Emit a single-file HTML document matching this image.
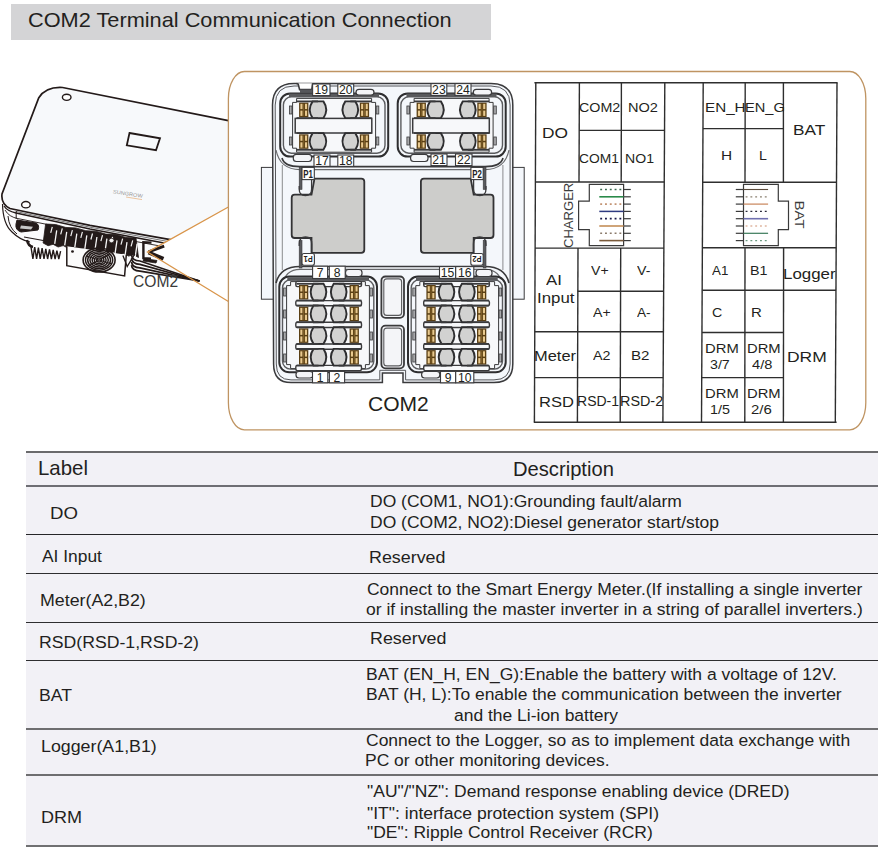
<!DOCTYPE html>
<html><head><meta charset="utf-8"><style>
html,body{margin:0;padding:0;background:#fff;}
body{width:882px;height:850px;position:relative;overflow:hidden;font-family:'Liberation Sans', sans-serif;}
.tx{position:absolute;white-space:nowrap;line-height:1.117;transform-origin:0 0;}
.hl{position:absolute;left:25.6px;width:852.2px;height:1.8px;background:#58585a;}
#tbl{position:absolute;left:25.6px;top:451.8px;width:852.2px;height:394.4px;background:#f2f1f6;}
#titlebar{position:absolute;left:11px;top:4px;width:480px;height:36px;background:#d4d4d6;}
svg{position:absolute;left:0;top:0;}
</style></head><body>
<div id="titlebar"></div>
<div id="tbl"></div>
<div class="hl" style="top:450.90px;height:2.00px;background:#6a6a6c"></div>
<div class="hl" style="top:485.15px;height:1.90px;background:#6e6e74"></div>
<div class="hl" style="top:533.75px;height:1.50px;background:#262628"></div>
<div class="hl" style="top:572.55px;height:1.50px;background:#2e2e30"></div>
<div class="hl" style="top:621.65px;height:1.50px;background:#2e2e30"></div>
<div class="hl" style="top:659.65px;height:1.50px;background:#2e2e30"></div>
<div class="hl" style="top:727.95px;height:1.90px;background:#6e6e70"></div>
<div class="hl" style="top:773.75px;height:1.90px;background:#6e6e70"></div>
<div class="hl" style="top:845.15px;height:1.90px;background:#707072"></div>
<svg width="882" height="850" viewBox="0 0 882 850"><path d="M2 200 Q3 222 14 234 Q22 242 40 246 L66 250 L66 266 L124 276 L128 262 L200 282 L174 241 Z" fill="#fbfbfc" stroke="none" stroke-width="0.00"/>
<path d="M62.6 87.5 L228.4 120.6 L228.4 250 L174.4 241 L90 226 L12 208 Q2 206 2 196 L38.8 97.7 Q46 86.5 62.6 87.5 Z" fill="#f7f9fb" stroke="none" stroke-width="0.00"/>
<path d="M228.4 120.6 L62.6 87.5 Q46 86.5 38.8 97.7 L2.0 194 Q0.8 204 10 208.5 L90 225.4 L176 240.6" fill="none" stroke="#231a19" stroke-width="1.70"/>
<path d="M4 206 Q7 211 16 213 L90 229 L172 244.5" fill="none" stroke="#231a19" stroke-width="1.30"/>
<path d="M16 211.5 L90 227.2 L174 242.6" fill="none" stroke="#777" stroke-width="1.00"/>
<path d="M5 210 Q9 217 18 218.6 L90 233 L160 246" fill="none" stroke="#231a19" stroke-width="0.90"/>
<path d="M2.5 204 Q3 224 12 232 Q20 240 30 242" fill="none" stroke="#231a19" stroke-width="1.20"/>
<path d="M8 216 Q9 228 17 234" fill="none" stroke="#231a19" stroke-width="1.00"/>
<path d="M16.2 211 V219" fill="none" stroke="#231a19" stroke-width="1.00"/>
<path d="M24 237 L46 241" fill="none" stroke="#231a19" stroke-width="1.20"/>
<path d="M17 220 L36 223 Q40 225 38 230 L21 232 Q15 230 16 224 Z" fill="#231a19" stroke="#231a19" stroke-width="1.00"/>
<path d="M21 225.5 L33 226.8 L31 229.6 L20 228.6 Z" fill="#c8c8c8" stroke="none" stroke-width="0.00"/>
<path d="M45.6 224.0 L55.6 224.5 L65.7 227.4 L75.7 227.9 L85.8 230.7 L95.8 231.2 L105.9 234.1 L115.9 234.6 L126.0 237.5 L136.0 238.0 L138.5 257.5 L133.5 254.8 L128.5 256.1 L123.5 253.4 L118.4 254.8 L113.4 252.1 L108.4 253.5 L103.4 250.8 L98.3 252.2 L93.3 249.5 L88.3 250.9 L83.3 248.2 L78.2 249.6 L73.2 246.9 L68.2 248.3 L63.2 245.6 L58.1 247.0 L53.1 244.3 L48.1 245.7 L43.1 243.0 Z" fill="#231a19" stroke="#231a19" stroke-width="0.80"/>
<path d="M52.3 226.8 L50.7 232.8" fill="none" stroke="#f2f2f2" stroke-width="1.20"/>
<path d="M56.7 230.3 L54.7 243.8" fill="none" stroke="#f6f6f6" stroke-width="1.30"/>
<path d="M62.3 228.4 L60.7 234.4" fill="none" stroke="#f2f2f2" stroke-width="1.20"/>
<path d="M66.7 231.9 L64.7 245.4" fill="none" stroke="#f6f6f6" stroke-width="1.30"/>
<path d="M72.4 230.1 L70.8 236.1" fill="none" stroke="#f2f2f2" stroke-width="1.20"/>
<path d="M76.8 233.6 L74.8 247.1" fill="none" stroke="#f6f6f6" stroke-width="1.30"/>
<path d="M82.4 231.8 L80.8 237.8" fill="none" stroke="#f2f2f2" stroke-width="1.20"/>
<path d="M86.8 235.3 L84.8 248.8" fill="none" stroke="#f6f6f6" stroke-width="1.30"/>
<path d="M92.5 233.5 L90.9 239.5" fill="none" stroke="#f2f2f2" stroke-width="1.20"/>
<path d="M96.9 237.0 L94.9 250.5" fill="none" stroke="#f6f6f6" stroke-width="1.30"/>
<path d="M102.5 235.2 L100.9 241.2" fill="none" stroke="#f2f2f2" stroke-width="1.20"/>
<path d="M106.9 238.7 L104.9 252.2" fill="none" stroke="#f6f6f6" stroke-width="1.30"/>
<path d="M112.6 236.9 L111.0 242.9" fill="none" stroke="#f2f2f2" stroke-width="1.20"/>
<path d="M117.0 240.4 L115.0 253.9" fill="none" stroke="#f6f6f6" stroke-width="1.30"/>
<path d="M122.6 238.6 L121.0 244.6" fill="none" stroke="#f2f2f2" stroke-width="1.20"/>
<path d="M127.0 242.1 L125.0 255.6" fill="none" stroke="#f6f6f6" stroke-width="1.30"/>
<path d="M132.7 240.3 L131.1 246.3" fill="none" stroke="#f2f2f2" stroke-width="1.20"/>
<path d="M137.1 243.8 L135.1 257.3" fill="none" stroke="#f6f6f6" stroke-width="1.30"/>
<ellipse cx="111.5" cy="240.5" rx="2.6" ry="2.2" fill="#f2f2f2" stroke="#231a19" stroke-width="0.8"/>
<path d="M31 247 L32.9 259 L34.7 247.0 L36.6 259 L38.4 247.6 L40.2 259 L42.1 248.2 L44.0 259 L45.8 248.8 L47.6 259 L49.5 249.4 L51.4 259 L53.2 250.0 L55.1 259 L56.9 250.6 L58.8 259 L60.6 251.2" fill="none" stroke="#231a19" stroke-width="1.40"/>
<path d="M27 240 Q28 246 33 247" fill="none" stroke="#231a19" stroke-width="2.50"/>
<path d="M66.8 246.2 L66.8 265.7 L124.6 275.9 L126.3 254.7" fill="#fbfbfb" stroke="#231a19" stroke-width="1.50"/>
<ellipse cx="99.1" cy="260" rx="16" ry="12" fill="none" stroke="#231a19" stroke-width="1.6"/>
<ellipse cx="99.1" cy="260" rx="13.6" ry="10.2" fill="none" stroke="#231a19" stroke-width="1.5"/>
<ellipse cx="99.1" cy="260" rx="11.4" ry="8.6" fill="none" stroke="#231a19" stroke-width="1.5"/>
<ellipse cx="99.1" cy="260" rx="9.2" ry="6.9" fill="none" stroke="#231a19" stroke-width="1.5"/>
<ellipse cx="99.1" cy="260" rx="7.0" ry="5.2" fill="none" stroke="#231a19" stroke-width="1.5"/>
<ellipse cx="99.1" cy="260" rx="4.8" ry="3.6" fill="none" stroke="#231a19" stroke-width="1.5"/>
<ellipse cx="99.1" cy="260" rx="2.6" ry="2.0" fill="none" stroke="#231a19" stroke-width="1.5"/>
<path d="M86 256 L112 264 M88 266 L110 254" fill="none" stroke="#231a19" stroke-width="1.00"/>
<ellipse cx="72.5" cy="251.5" rx="1.4" ry="1.2" fill="#231a19"/>
<path d="M122.9 255.5 L127.2 266.6 L134.8 253.8" fill="none" stroke="#231a19" stroke-width="1.30"/>
<path d="M129.5 133 L160 138.3 L156 150.2 L126.8 145.3 Z" fill="none" stroke="#231a19" stroke-width="1.80"/>
<ellipse cx="66.7" cy="97.3" rx="4.3" ry="3.1" fill="#fff" stroke="#231a19" stroke-width="1.4"/>
<ellipse cx="25.9" cy="204.7" rx="4.3" ry="3.2" fill="#fff" stroke="#231a19" stroke-width="1.4"/>
<text x="0" y="0" transform="translate(112.8 193.2) rotate(9)" font-family="Liberation Sans" font-size="5.2" fill="#9a9a9a" textLength="30" lengthAdjust="spacingAndGlyphs">SUNGROW</text>
<path d="M126 197 L142 199.6" fill="none" stroke="#e0a060" stroke-width="0.60"/>
<path d="M147.5 252.1 L228.4 207 L228.4 301.5 Z" fill="#ffffff" stroke="none" stroke-width="0.00"/>
<path d="M151.5 242.6 L143.4 242.2 L143.4 258.2 L151 258.6" fill="none" stroke="#231a19" stroke-width="2.40"/>
<path d="M144 258.5 L157 260.5 L156 263 L143 261 Z" fill="#231a19" stroke="#231a19" stroke-width="0.80"/>
<path d="M131.5 255.0 Q132 260.5 140 261.0 L199.5 281" fill="none" stroke="#231a19" stroke-width="1.70"/>
<path d="M131.5 258.4 Q132 263.9 140 264.4 L199.5 281" fill="none" stroke="#231a19" stroke-width="1.70"/>
<path d="M131.5 261.8 Q132 267.3 140 267.8 L199.5 281" fill="none" stroke="#231a19" stroke-width="1.70"/>
<path d="M131.5 265.2 Q132 270.7 140 271.2 L199.5 281" fill="none" stroke="#231a19" stroke-width="1.70"/>
<path d="M148.5 251.8 L164.2 246.2" fill="none" stroke="#231a19" stroke-width="3.00"/>
<path d="M148.5 252.4 L163.5 258.8" fill="none" stroke="#231a19" stroke-width="3.80"/>
<path d="M229.6 228.5 L229 233" fill="none" stroke="#231a19" stroke-width="1.20"/>
<path d="M228.4 207 L147.5 252.1 L228.4 301.5" fill="none" stroke="#d9954a" stroke-width="1.25"/>
<path d="M244.4 71.5 H849.8 A16 27 0 0 1 865.8 98.5 V402.8 A16 27 0 0 1 849.8 429.8 H244.4 A16 27 0 0 1 228.4 402.8 V98.5 A16 27 0 0 1 244.4 71.5 Z" fill="#ffffff" stroke="#bf9462" stroke-width="1.3"/>
<rect x="261.40" y="167.40" width="14.00" height="131.80" rx="0.00" fill="#f4f7fb" stroke="#3a3a3c" stroke-width="1.00"/><rect x="510.20" y="167.40" width="14.00" height="131.80" rx="0.00" fill="#f4f7fb" stroke="#3a3a3c" stroke-width="1.00"/><path d="M272.5 105 Q272.5 83.4 294 83.4 H491 Q512.8 83.4 512.8 105 V364 Q512.8 382.6 494 382.6 H403 V373 H382.4 V382.6 H291 Q273.6 382.6 273.6 364 Z" fill="#f4f7fb" stroke="#3a3a3c" stroke-width="1.50"/><path d="M275.2 105 Q275.2 86 294 86 H491 Q510.1 86 510.1 105 V364 Q510.1 379.9 494 379.9 H405.6 V370.3 H379.8 V379.9 H291 Q276.3 379.9 276.3 364 Z" fill="none" stroke="#55565a" stroke-width="1.00"/><path d="M297.6 83.2 L299.6 89.6 H311.8 L312.6 83.2 Z" fill="#ffffff" stroke="none" stroke-width="0.00"/><path d="M296.5 83.4 L298.2 84 L299.6 89.6 H311.8 L312.6 83.4" fill="none" stroke="#3a3a3c" stroke-width="1.60"/><rect x="300.00" y="89.60" width="12.00" height="3.20" rx="0.00" fill="#55565a" stroke="none" stroke-width="0.00"/><path d="M282.3 165 V270" fill="none" stroke="#8a8b8e" stroke-width="1.00"/><path d="M502.9 165 V270" fill="none" stroke="#8a8b8e" stroke-width="1.00"/><path d="M282 158 Q284 166.6 300 166.6 H485 Q501 166.6 503 158" fill="none" stroke="#3a3a3c" stroke-width="1.60"/><path d="M276 150 Q280 169.6 300 169.6 H485 Q505 169.6 509 150" fill="none" stroke="#6a6b6e" stroke-width="1.20"/><path d="M276 283 Q280 266.5 300 266.5 H485 Q505 266.5 509 283" fill="none" stroke="#3a3a3c" stroke-width="1.60"/><path d="M282 286 Q285 269.4 300 269.4 H485 Q500 269.4 503 286" fill="none" stroke="#6a6b6e" stroke-width="1.20"/>
<path d="M314.5 178.6 H361.3 Q364.3 178.6 364.3 181.6 V249.8 Q364.3 252.8 361.3 252.8 H311.5 V238.0 H294.7 Q291.7 238.0 291.7 235.0 V197.7 Q291.7 194.7 294.7 194.7 H311.5 Z" fill="#cdcdcb" stroke="#333335" stroke-width="1.80"/>
<path d="M470.7 178.6 H423.9 Q420.9 178.6 420.9 181.6 V249.8 Q420.9 252.8 423.9 252.8 H473.7 V238.0 H490.5 Q493.5 238.0 493.5 235.0 V197.7 Q493.5 194.7 490.5 194.7 H473.7 Z" fill="#cdcdcb" stroke="#333335" stroke-width="1.80"/>
<rect x="299.20" y="167.40" width="2.80" height="22.00" rx="0.00" fill="#5a5b5e" stroke="#3a3a3c" stroke-width="0.60"/><rect x="302.00" y="167.40" width="12.30" height="12.20" rx="0.00" fill="#fff" stroke="#3a3a3c" stroke-width="1.10"/><text x="303.3" y="177.6" font-family="Liberation Sans" font-weight="bold" font-size="10" fill="#222" textLength="9.6" lengthAdjust="spacingAndGlyphs">P1</text><path d="M299.2 186 V189 Q299.2 195.5 305.4 195.5 Q311.6 195.5 311.6 189 V179.6" fill="none" stroke="#3a3a3c" stroke-width="1.30"/><rect x="299.20" y="240.50" width="2.80" height="27.50" rx="0.00" fill="#5a5b5e" stroke="#3a3a3c" stroke-width="0.60"/><path d="M299.2 246 V244 Q299.2 236.8 305.5 236.8 Q311.8 236.8 311.8 244 V252.6" fill="none" stroke="#3a3a3c" stroke-width="1.30"/><rect x="302.00" y="253.50" width="12.40" height="11.80" rx="2.00" fill="#fff" stroke="#3a3a3c" stroke-width="1.10"/><text x="0" y="0" transform="translate(312.7 255.8) rotate(180)" font-family="Liberation Sans" font-weight="bold" font-size="9.5" fill="#222" textLength="9" lengthAdjust="spacingAndGlyphs">P1</text><rect x="483.20" y="167.40" width="2.80" height="22.00" rx="0.00" fill="#5a5b5e" stroke="#3a3a3c" stroke-width="0.60"/><rect x="470.90" y="167.40" width="12.30" height="12.20" rx="0.00" fill="#fff" stroke="#3a3a3c" stroke-width="1.10"/><text x="472.2" y="177.6" font-family="Liberation Sans" font-weight="bold" font-size="10" fill="#222" textLength="9.6" lengthAdjust="spacingAndGlyphs">P2</text><path d="M486.0 186 V189 Q486.0 195.5 479.8 195.5 Q473.6 195.5 473.6 189 V179.6" fill="none" stroke="#3a3a3c" stroke-width="1.30"/><rect x="483.20" y="240.50" width="2.80" height="27.50" rx="0.00" fill="#5a5b5e" stroke="#3a3a3c" stroke-width="0.60"/><path d="M486.0 246 V244 Q486.0 236.8 479.7 236.8 Q473.4 236.8 473.4 244 V252.6" fill="none" stroke="#3a3a3c" stroke-width="1.30"/><rect x="470.80" y="253.50" width="12.40" height="11.80" rx="2.00" fill="#fff" stroke="#3a3a3c" stroke-width="1.10"/><text x="0" y="0" transform="translate(481.5 255.8) rotate(180)" font-family="Liberation Sans" font-weight="bold" font-size="9.5" fill="#222" textLength="9" lengthAdjust="spacingAndGlyphs">P2</text>
<rect x="280.20" y="93.40" width="108.00" height="63.20" rx="10.00" fill="#f4f7fb" stroke="#2e2e30" stroke-width="2.00"/><rect x="283.40" y="96.80" width="101.60" height="56.40" rx="8.00" fill="none" stroke="#5a5b5e" stroke-width="1.40"/><rect x="289.00" y="93.60" width="90.00" height="3.40" rx="0.00" fill="#58595c" stroke="none" stroke-width="0.00"/><path d="M296.6 98.4 H371.6 V102.4 H375.6 V148.2 H371.6 V152.2 H296.6 V148.2 H292.6 V102.4 H296.6 Z" fill="#f7f8fa" stroke="#3a3a3c" stroke-width="1.00"/><rect x="289.40" y="106.00" width="2.60" height="8.00" rx="0.00" fill="#a8a9ab" stroke="#3a3a3c" stroke-width="0.80"/><rect x="289.40" y="137.00" width="2.60" height="8.00" rx="0.00" fill="#a8a9ab" stroke="#3a3a3c" stroke-width="0.80"/><rect x="376.20" y="106.00" width="2.60" height="8.00" rx="0.00" fill="#a8a9ab" stroke="#3a3a3c" stroke-width="0.80"/><rect x="376.20" y="137.00" width="2.60" height="8.00" rx="0.00" fill="#a8a9ab" stroke="#3a3a3c" stroke-width="0.80"/><rect x="295.20" y="118.40" width="76.60" height="14.60" rx="0.00" fill="#f7f8fa" stroke="#3a3a3c" stroke-width="1.50"/><path d="M312.60 101.40 H323.40 Q329.10 109.75 323.40 118.10 H312.60 Q306.90 109.75 312.60 101.40 Z" fill="#d2d2d1" stroke="#2e2e30" stroke-width="1.90"/><rect x="299.10" y="102.60" width="9.30" height="14.50" rx="0.00" fill="#5a3f14" stroke="none" stroke-width="0.00"/><rect x="300.40" y="103.80" width="2.10" height="5.30" rx="0.00" fill="#e9c98e" stroke="none" stroke-width="0.00"/><rect x="300.40" y="110.60" width="2.10" height="5.30" rx="0.00" fill="#e9c98e" stroke="none" stroke-width="0.00"/><rect x="305.00" y="103.80" width="2.10" height="5.30" rx="0.00" fill="#e9c98e" stroke="none" stroke-width="0.00"/><rect x="305.00" y="110.60" width="2.10" height="5.30" rx="0.00" fill="#e9c98e" stroke="none" stroke-width="0.00"/><rect x="303.35" y="103.80" width="0.80" height="12.10" rx="0.00" fill="#8a6a30" stroke="none" stroke-width="0.00"/><line x1="296.50" y1="101.40" x2="318.00" y2="101.40" stroke="#3a3a3c" stroke-width="1.8"/><line x1="296.50" y1="118.10" x2="318.00" y2="118.10" stroke="#3a3a3c" stroke-width="1.8"/><path d="M345.30 101.40 H355.30 Q361.00 109.75 355.30 118.10 H345.30 Q339.60 109.75 345.30 101.40 Z" fill="#d2d2d1" stroke="#2e2e30" stroke-width="1.90"/><rect x="359.80" y="102.60" width="9.30" height="14.50" rx="0.00" fill="#5a3f14" stroke="none" stroke-width="0.00"/><rect x="361.10" y="103.80" width="2.10" height="5.30" rx="0.00" fill="#e9c98e" stroke="none" stroke-width="0.00"/><rect x="361.10" y="110.60" width="2.10" height="5.30" rx="0.00" fill="#e9c98e" stroke="none" stroke-width="0.00"/><rect x="365.70" y="103.80" width="2.10" height="5.30" rx="0.00" fill="#e9c98e" stroke="none" stroke-width="0.00"/><rect x="365.70" y="110.60" width="2.10" height="5.30" rx="0.00" fill="#e9c98e" stroke="none" stroke-width="0.00"/><rect x="364.05" y="103.80" width="0.80" height="12.10" rx="0.00" fill="#8a6a30" stroke="none" stroke-width="0.00"/><line x1="350.30" y1="101.40" x2="371.70" y2="101.40" stroke="#3a3a3c" stroke-width="1.8"/><line x1="350.30" y1="118.10" x2="371.70" y2="118.10" stroke="#3a3a3c" stroke-width="1.8"/><path d="M312.60 133.10 H323.40 Q329.10 141.45 323.40 149.80 H312.60 Q306.90 141.45 312.60 133.10 Z" fill="#d2d2d1" stroke="#2e2e30" stroke-width="1.90"/><rect x="299.10" y="134.30" width="9.30" height="14.50" rx="0.00" fill="#5a3f14" stroke="none" stroke-width="0.00"/><rect x="300.40" y="135.50" width="2.10" height="5.30" rx="0.00" fill="#e9c98e" stroke="none" stroke-width="0.00"/><rect x="300.40" y="142.30" width="2.10" height="5.30" rx="0.00" fill="#e9c98e" stroke="none" stroke-width="0.00"/><rect x="305.00" y="135.50" width="2.10" height="5.30" rx="0.00" fill="#e9c98e" stroke="none" stroke-width="0.00"/><rect x="305.00" y="142.30" width="2.10" height="5.30" rx="0.00" fill="#e9c98e" stroke="none" stroke-width="0.00"/><rect x="303.35" y="135.50" width="0.80" height="12.10" rx="0.00" fill="#8a6a30" stroke="none" stroke-width="0.00"/><line x1="296.50" y1="133.10" x2="318.00" y2="133.10" stroke="#3a3a3c" stroke-width="1.8"/><line x1="296.50" y1="149.80" x2="318.00" y2="149.80" stroke="#3a3a3c" stroke-width="1.8"/><path d="M345.30 133.10 H355.30 Q361.00 141.45 355.30 149.80 H345.30 Q339.60 141.45 345.30 133.10 Z" fill="#d2d2d1" stroke="#2e2e30" stroke-width="1.90"/><rect x="359.80" y="134.30" width="9.30" height="14.50" rx="0.00" fill="#5a3f14" stroke="none" stroke-width="0.00"/><rect x="361.10" y="135.50" width="2.10" height="5.30" rx="0.00" fill="#e9c98e" stroke="none" stroke-width="0.00"/><rect x="361.10" y="142.30" width="2.10" height="5.30" rx="0.00" fill="#e9c98e" stroke="none" stroke-width="0.00"/><rect x="365.70" y="135.50" width="2.10" height="5.30" rx="0.00" fill="#e9c98e" stroke="none" stroke-width="0.00"/><rect x="365.70" y="142.30" width="2.10" height="5.30" rx="0.00" fill="#e9c98e" stroke="none" stroke-width="0.00"/><rect x="364.05" y="135.50" width="0.80" height="12.10" rx="0.00" fill="#8a6a30" stroke="none" stroke-width="0.00"/><line x1="350.30" y1="133.10" x2="371.70" y2="133.10" stroke="#3a3a3c" stroke-width="1.8"/><line x1="350.30" y1="149.80" x2="371.70" y2="149.80" stroke="#3a3a3c" stroke-width="1.8"/>
<rect x="397.70" y="93.40" width="108.00" height="63.20" rx="10.00" fill="#f4f7fb" stroke="#2e2e30" stroke-width="2.00"/><rect x="400.90" y="96.80" width="101.60" height="56.40" rx="8.00" fill="none" stroke="#5a5b5e" stroke-width="1.40"/><rect x="406.50" y="93.60" width="90.00" height="3.40" rx="0.00" fill="#58595c" stroke="none" stroke-width="0.00"/><path d="M414.1 98.4 H489.1 V102.4 H493.1 V148.2 H489.1 V152.2 H414.1 V148.2 H410.1 V102.4 H414.1 Z" fill="#f7f8fa" stroke="#3a3a3c" stroke-width="1.00"/><rect x="406.90" y="106.00" width="2.60" height="8.00" rx="0.00" fill="#a8a9ab" stroke="#3a3a3c" stroke-width="0.80"/><rect x="406.90" y="137.00" width="2.60" height="8.00" rx="0.00" fill="#a8a9ab" stroke="#3a3a3c" stroke-width="0.80"/><rect x="493.70" y="106.00" width="2.60" height="8.00" rx="0.00" fill="#a8a9ab" stroke="#3a3a3c" stroke-width="0.80"/><rect x="493.70" y="137.00" width="2.60" height="8.00" rx="0.00" fill="#a8a9ab" stroke="#3a3a3c" stroke-width="0.80"/><rect x="412.70" y="118.40" width="76.60" height="14.60" rx="0.00" fill="#f7f8fa" stroke="#3a3a3c" stroke-width="1.50"/><path d="M430.10 101.40 H440.90 Q446.60 109.75 440.90 118.10 H430.10 Q424.40 109.75 430.10 101.40 Z" fill="#d2d2d1" stroke="#2e2e30" stroke-width="1.90"/><rect x="416.60" y="102.60" width="9.30" height="14.50" rx="0.00" fill="#5a3f14" stroke="none" stroke-width="0.00"/><rect x="417.90" y="103.80" width="2.10" height="5.30" rx="0.00" fill="#e9c98e" stroke="none" stroke-width="0.00"/><rect x="417.90" y="110.60" width="2.10" height="5.30" rx="0.00" fill="#e9c98e" stroke="none" stroke-width="0.00"/><rect x="422.50" y="103.80" width="2.10" height="5.30" rx="0.00" fill="#e9c98e" stroke="none" stroke-width="0.00"/><rect x="422.50" y="110.60" width="2.10" height="5.30" rx="0.00" fill="#e9c98e" stroke="none" stroke-width="0.00"/><rect x="420.85" y="103.80" width="0.80" height="12.10" rx="0.00" fill="#8a6a30" stroke="none" stroke-width="0.00"/><line x1="414.00" y1="101.40" x2="435.50" y2="101.40" stroke="#3a3a3c" stroke-width="1.8"/><line x1="414.00" y1="118.10" x2="435.50" y2="118.10" stroke="#3a3a3c" stroke-width="1.8"/><path d="M462.80 101.40 H472.80 Q478.50 109.75 472.80 118.10 H462.80 Q457.10 109.75 462.80 101.40 Z" fill="#d2d2d1" stroke="#2e2e30" stroke-width="1.90"/><rect x="477.30" y="102.60" width="9.30" height="14.50" rx="0.00" fill="#5a3f14" stroke="none" stroke-width="0.00"/><rect x="478.60" y="103.80" width="2.10" height="5.30" rx="0.00" fill="#e9c98e" stroke="none" stroke-width="0.00"/><rect x="478.60" y="110.60" width="2.10" height="5.30" rx="0.00" fill="#e9c98e" stroke="none" stroke-width="0.00"/><rect x="483.20" y="103.80" width="2.10" height="5.30" rx="0.00" fill="#e9c98e" stroke="none" stroke-width="0.00"/><rect x="483.20" y="110.60" width="2.10" height="5.30" rx="0.00" fill="#e9c98e" stroke="none" stroke-width="0.00"/><rect x="481.55" y="103.80" width="0.80" height="12.10" rx="0.00" fill="#8a6a30" stroke="none" stroke-width="0.00"/><line x1="467.80" y1="101.40" x2="489.20" y2="101.40" stroke="#3a3a3c" stroke-width="1.8"/><line x1="467.80" y1="118.10" x2="489.20" y2="118.10" stroke="#3a3a3c" stroke-width="1.8"/><path d="M430.10 133.10 H440.90 Q446.60 141.45 440.90 149.80 H430.10 Q424.40 141.45 430.10 133.10 Z" fill="#d2d2d1" stroke="#2e2e30" stroke-width="1.90"/><rect x="416.60" y="134.30" width="9.30" height="14.50" rx="0.00" fill="#5a3f14" stroke="none" stroke-width="0.00"/><rect x="417.90" y="135.50" width="2.10" height="5.30" rx="0.00" fill="#e9c98e" stroke="none" stroke-width="0.00"/><rect x="417.90" y="142.30" width="2.10" height="5.30" rx="0.00" fill="#e9c98e" stroke="none" stroke-width="0.00"/><rect x="422.50" y="135.50" width="2.10" height="5.30" rx="0.00" fill="#e9c98e" stroke="none" stroke-width="0.00"/><rect x="422.50" y="142.30" width="2.10" height="5.30" rx="0.00" fill="#e9c98e" stroke="none" stroke-width="0.00"/><rect x="420.85" y="135.50" width="0.80" height="12.10" rx="0.00" fill="#8a6a30" stroke="none" stroke-width="0.00"/><line x1="414.00" y1="133.10" x2="435.50" y2="133.10" stroke="#3a3a3c" stroke-width="1.8"/><line x1="414.00" y1="149.80" x2="435.50" y2="149.80" stroke="#3a3a3c" stroke-width="1.8"/><path d="M462.80 133.10 H472.80 Q478.50 141.45 472.80 149.80 H462.80 Q457.10 141.45 462.80 133.10 Z" fill="#d2d2d1" stroke="#2e2e30" stroke-width="1.90"/><rect x="477.30" y="134.30" width="9.30" height="14.50" rx="0.00" fill="#5a3f14" stroke="none" stroke-width="0.00"/><rect x="478.60" y="135.50" width="2.10" height="5.30" rx="0.00" fill="#e9c98e" stroke="none" stroke-width="0.00"/><rect x="478.60" y="142.30" width="2.10" height="5.30" rx="0.00" fill="#e9c98e" stroke="none" stroke-width="0.00"/><rect x="483.20" y="135.50" width="2.10" height="5.30" rx="0.00" fill="#e9c98e" stroke="none" stroke-width="0.00"/><rect x="483.20" y="142.30" width="2.10" height="5.30" rx="0.00" fill="#e9c98e" stroke="none" stroke-width="0.00"/><rect x="481.55" y="135.50" width="0.80" height="12.10" rx="0.00" fill="#8a6a30" stroke="none" stroke-width="0.00"/><line x1="467.80" y1="133.10" x2="489.20" y2="133.10" stroke="#3a3a3c" stroke-width="1.8"/><line x1="467.80" y1="149.80" x2="489.20" y2="149.80" stroke="#3a3a3c" stroke-width="1.8"/>
<rect x="279.30" y="276.60" width="97.70" height="95.70" rx="10.00" fill="#f4f7fb" stroke="#2e2e30" stroke-width="2.00"/><rect x="282.50" y="279.80" width="91.30" height="89.30" rx="8.00" fill="none" stroke="#5a5b5e" stroke-width="1.40"/><rect x="287.30" y="277.20" width="81.70" height="3.60" rx="0.00" fill="#58595c" stroke="none" stroke-width="0.00"/><path d="M290.6 281.6 H365.4 V285.6 H369.4 V364.6 H365.4 V368.6 H290.6 V364.6 H286.6 V285.6 H290.6 Z" fill="#f7f8fa" stroke="#3a3a3c" stroke-width="1.00"/><rect x="283.60" y="288.00" width="2.60" height="8.00" rx="0.00" fill="#a8a9ab" stroke="#3a3a3c" stroke-width="0.80"/><rect x="369.80" y="288.00" width="2.60" height="8.00" rx="0.00" fill="#a8a9ab" stroke="#3a3a3c" stroke-width="0.80"/><rect x="283.60" y="310.00" width="2.60" height="8.00" rx="0.00" fill="#a8a9ab" stroke="#3a3a3c" stroke-width="0.80"/><rect x="369.80" y="310.00" width="2.60" height="8.00" rx="0.00" fill="#a8a9ab" stroke="#3a3a3c" stroke-width="0.80"/><rect x="283.60" y="332.00" width="2.60" height="8.00" rx="0.00" fill="#a8a9ab" stroke="#3a3a3c" stroke-width="0.80"/><rect x="369.80" y="332.00" width="2.60" height="8.00" rx="0.00" fill="#a8a9ab" stroke="#3a3a3c" stroke-width="0.80"/><rect x="283.60" y="354.00" width="2.60" height="8.00" rx="0.00" fill="#a8a9ab" stroke="#3a3a3c" stroke-width="0.80"/><rect x="369.80" y="354.00" width="2.60" height="8.00" rx="0.00" fill="#a8a9ab" stroke="#3a3a3c" stroke-width="0.80"/><rect x="295.80" y="281.40" width="65.70" height="5.20" rx="1.50" fill="#f7f8fa" stroke="#3a3a3c" stroke-width="1.40"/><rect x="295.80" y="300.60" width="65.70" height="5.20" rx="1.50" fill="#f7f8fa" stroke="#3a3a3c" stroke-width="1.40"/><rect x="295.80" y="322.30" width="65.70" height="5.20" rx="1.50" fill="#f7f8fa" stroke="#3a3a3c" stroke-width="1.40"/><rect x="295.80" y="344.00" width="65.70" height="5.20" rx="1.50" fill="#f7f8fa" stroke="#3a3a3c" stroke-width="1.40"/><rect x="295.80" y="365.40" width="65.70" height="5.20" rx="1.50" fill="#f7f8fa" stroke="#3a3a3c" stroke-width="1.40"/><path d="M313.50 283.80 H323.50 Q329.20 292.15 323.50 300.50 H313.50 Q307.80 292.15 313.50 283.80 Z" fill="#d2d2d1" stroke="#2e2e30" stroke-width="1.90"/><rect x="299.00" y="285.00" width="9.30" height="14.50" rx="0.00" fill="#5a3f14" stroke="none" stroke-width="0.00"/><rect x="300.30" y="286.20" width="2.10" height="5.30" rx="0.00" fill="#e9c98e" stroke="none" stroke-width="0.00"/><rect x="300.30" y="293.00" width="2.10" height="5.30" rx="0.00" fill="#e9c98e" stroke="none" stroke-width="0.00"/><rect x="304.90" y="286.20" width="2.10" height="5.30" rx="0.00" fill="#e9c98e" stroke="none" stroke-width="0.00"/><rect x="304.90" y="293.00" width="2.10" height="5.30" rx="0.00" fill="#e9c98e" stroke="none" stroke-width="0.00"/><rect x="303.25" y="286.20" width="0.80" height="12.10" rx="0.00" fill="#8a6a30" stroke="none" stroke-width="0.00"/><line x1="296.40" y1="283.80" x2="318.50" y2="283.80" stroke="#3a3a3c" stroke-width="1.8"/><line x1="296.40" y1="300.50" x2="318.50" y2="300.50" stroke="#3a3a3c" stroke-width="1.8"/><path d="M333.70 283.80 H343.70 Q349.40 292.15 343.70 300.50 H333.70 Q328.00 292.15 333.70 283.80 Z" fill="#d2d2d1" stroke="#2e2e30" stroke-width="1.90"/><rect x="349.60" y="285.00" width="9.30" height="14.50" rx="0.00" fill="#5a3f14" stroke="none" stroke-width="0.00"/><rect x="350.90" y="286.20" width="2.10" height="5.30" rx="0.00" fill="#e9c98e" stroke="none" stroke-width="0.00"/><rect x="350.90" y="293.00" width="2.10" height="5.30" rx="0.00" fill="#e9c98e" stroke="none" stroke-width="0.00"/><rect x="355.50" y="286.20" width="2.10" height="5.30" rx="0.00" fill="#e9c98e" stroke="none" stroke-width="0.00"/><rect x="355.50" y="293.00" width="2.10" height="5.30" rx="0.00" fill="#e9c98e" stroke="none" stroke-width="0.00"/><rect x="353.85" y="286.20" width="0.80" height="12.10" rx="0.00" fill="#8a6a30" stroke="none" stroke-width="0.00"/><line x1="338.70" y1="283.80" x2="361.50" y2="283.80" stroke="#3a3a3c" stroke-width="1.8"/><line x1="338.70" y1="300.50" x2="361.50" y2="300.50" stroke="#3a3a3c" stroke-width="1.8"/><path d="M313.50 305.50 H323.50 Q329.20 313.85 323.50 322.20 H313.50 Q307.80 313.85 313.50 305.50 Z" fill="#d2d2d1" stroke="#2e2e30" stroke-width="1.90"/><rect x="299.00" y="306.70" width="9.30" height="14.50" rx="0.00" fill="#5a3f14" stroke="none" stroke-width="0.00"/><rect x="300.30" y="307.90" width="2.10" height="5.30" rx="0.00" fill="#e9c98e" stroke="none" stroke-width="0.00"/><rect x="300.30" y="314.70" width="2.10" height="5.30" rx="0.00" fill="#e9c98e" stroke="none" stroke-width="0.00"/><rect x="304.90" y="307.90" width="2.10" height="5.30" rx="0.00" fill="#e9c98e" stroke="none" stroke-width="0.00"/><rect x="304.90" y="314.70" width="2.10" height="5.30" rx="0.00" fill="#e9c98e" stroke="none" stroke-width="0.00"/><rect x="303.25" y="307.90" width="0.80" height="12.10" rx="0.00" fill="#8a6a30" stroke="none" stroke-width="0.00"/><line x1="296.40" y1="305.50" x2="318.50" y2="305.50" stroke="#3a3a3c" stroke-width="1.8"/><line x1="296.40" y1="322.20" x2="318.50" y2="322.20" stroke="#3a3a3c" stroke-width="1.8"/><path d="M333.70 305.50 H343.70 Q349.40 313.85 343.70 322.20 H333.70 Q328.00 313.85 333.70 305.50 Z" fill="#d2d2d1" stroke="#2e2e30" stroke-width="1.90"/><rect x="349.60" y="306.70" width="9.30" height="14.50" rx="0.00" fill="#5a3f14" stroke="none" stroke-width="0.00"/><rect x="350.90" y="307.90" width="2.10" height="5.30" rx="0.00" fill="#e9c98e" stroke="none" stroke-width="0.00"/><rect x="350.90" y="314.70" width="2.10" height="5.30" rx="0.00" fill="#e9c98e" stroke="none" stroke-width="0.00"/><rect x="355.50" y="307.90" width="2.10" height="5.30" rx="0.00" fill="#e9c98e" stroke="none" stroke-width="0.00"/><rect x="355.50" y="314.70" width="2.10" height="5.30" rx="0.00" fill="#e9c98e" stroke="none" stroke-width="0.00"/><rect x="353.85" y="307.90" width="0.80" height="12.10" rx="0.00" fill="#8a6a30" stroke="none" stroke-width="0.00"/><line x1="338.70" y1="305.50" x2="361.50" y2="305.50" stroke="#3a3a3c" stroke-width="1.8"/><line x1="338.70" y1="322.20" x2="361.50" y2="322.20" stroke="#3a3a3c" stroke-width="1.8"/><path d="M313.50 327.20 H323.50 Q329.20 335.55 323.50 343.90 H313.50 Q307.80 335.55 313.50 327.20 Z" fill="#d2d2d1" stroke="#2e2e30" stroke-width="1.90"/><rect x="299.00" y="328.40" width="9.30" height="14.50" rx="0.00" fill="#5a3f14" stroke="none" stroke-width="0.00"/><rect x="300.30" y="329.60" width="2.10" height="5.30" rx="0.00" fill="#e9c98e" stroke="none" stroke-width="0.00"/><rect x="300.30" y="336.40" width="2.10" height="5.30" rx="0.00" fill="#e9c98e" stroke="none" stroke-width="0.00"/><rect x="304.90" y="329.60" width="2.10" height="5.30" rx="0.00" fill="#e9c98e" stroke="none" stroke-width="0.00"/><rect x="304.90" y="336.40" width="2.10" height="5.30" rx="0.00" fill="#e9c98e" stroke="none" stroke-width="0.00"/><rect x="303.25" y="329.60" width="0.80" height="12.10" rx="0.00" fill="#8a6a30" stroke="none" stroke-width="0.00"/><line x1="296.40" y1="327.20" x2="318.50" y2="327.20" stroke="#3a3a3c" stroke-width="1.8"/><line x1="296.40" y1="343.90" x2="318.50" y2="343.90" stroke="#3a3a3c" stroke-width="1.8"/><path d="M333.70 327.20 H343.70 Q349.40 335.55 343.70 343.90 H333.70 Q328.00 335.55 333.70 327.20 Z" fill="#d2d2d1" stroke="#2e2e30" stroke-width="1.90"/><rect x="349.60" y="328.40" width="9.30" height="14.50" rx="0.00" fill="#5a3f14" stroke="none" stroke-width="0.00"/><rect x="350.90" y="329.60" width="2.10" height="5.30" rx="0.00" fill="#e9c98e" stroke="none" stroke-width="0.00"/><rect x="350.90" y="336.40" width="2.10" height="5.30" rx="0.00" fill="#e9c98e" stroke="none" stroke-width="0.00"/><rect x="355.50" y="329.60" width="2.10" height="5.30" rx="0.00" fill="#e9c98e" stroke="none" stroke-width="0.00"/><rect x="355.50" y="336.40" width="2.10" height="5.30" rx="0.00" fill="#e9c98e" stroke="none" stroke-width="0.00"/><rect x="353.85" y="329.60" width="0.80" height="12.10" rx="0.00" fill="#8a6a30" stroke="none" stroke-width="0.00"/><line x1="338.70" y1="327.20" x2="361.50" y2="327.20" stroke="#3a3a3c" stroke-width="1.8"/><line x1="338.70" y1="343.90" x2="361.50" y2="343.90" stroke="#3a3a3c" stroke-width="1.8"/><path d="M313.50 348.90 H323.50 Q329.20 357.25 323.50 365.60 H313.50 Q307.80 357.25 313.50 348.90 Z" fill="#d2d2d1" stroke="#2e2e30" stroke-width="1.90"/><rect x="299.00" y="350.10" width="9.30" height="14.50" rx="0.00" fill="#5a3f14" stroke="none" stroke-width="0.00"/><rect x="300.30" y="351.30" width="2.10" height="5.30" rx="0.00" fill="#e9c98e" stroke="none" stroke-width="0.00"/><rect x="300.30" y="358.10" width="2.10" height="5.30" rx="0.00" fill="#e9c98e" stroke="none" stroke-width="0.00"/><rect x="304.90" y="351.30" width="2.10" height="5.30" rx="0.00" fill="#e9c98e" stroke="none" stroke-width="0.00"/><rect x="304.90" y="358.10" width="2.10" height="5.30" rx="0.00" fill="#e9c98e" stroke="none" stroke-width="0.00"/><rect x="303.25" y="351.30" width="0.80" height="12.10" rx="0.00" fill="#8a6a30" stroke="none" stroke-width="0.00"/><line x1="296.40" y1="348.90" x2="318.50" y2="348.90" stroke="#3a3a3c" stroke-width="1.8"/><line x1="296.40" y1="365.60" x2="318.50" y2="365.60" stroke="#3a3a3c" stroke-width="1.8"/><path d="M333.70 348.90 H343.70 Q349.40 357.25 343.70 365.60 H333.70 Q328.00 357.25 333.70 348.90 Z" fill="#d2d2d1" stroke="#2e2e30" stroke-width="1.90"/><rect x="349.60" y="350.10" width="9.30" height="14.50" rx="0.00" fill="#5a3f14" stroke="none" stroke-width="0.00"/><rect x="350.90" y="351.30" width="2.10" height="5.30" rx="0.00" fill="#e9c98e" stroke="none" stroke-width="0.00"/><rect x="350.90" y="358.10" width="2.10" height="5.30" rx="0.00" fill="#e9c98e" stroke="none" stroke-width="0.00"/><rect x="355.50" y="351.30" width="2.10" height="5.30" rx="0.00" fill="#e9c98e" stroke="none" stroke-width="0.00"/><rect x="355.50" y="358.10" width="2.10" height="5.30" rx="0.00" fill="#e9c98e" stroke="none" stroke-width="0.00"/><rect x="353.85" y="351.30" width="0.80" height="12.10" rx="0.00" fill="#8a6a30" stroke="none" stroke-width="0.00"/><line x1="338.70" y1="348.90" x2="361.50" y2="348.90" stroke="#3a3a3c" stroke-width="1.8"/><line x1="338.70" y1="365.60" x2="361.50" y2="365.60" stroke="#3a3a3c" stroke-width="1.8"/>
<rect x="408.00" y="276.60" width="97.70" height="95.70" rx="10.00" fill="#f4f7fb" stroke="#2e2e30" stroke-width="2.00"/><rect x="411.20" y="279.80" width="91.30" height="89.30" rx="8.00" fill="none" stroke="#5a5b5e" stroke-width="1.40"/><rect x="416.00" y="277.20" width="81.70" height="3.60" rx="0.00" fill="#58595c" stroke="none" stroke-width="0.00"/><path d="M419.8 281.6 H494.6 V285.6 H498.6 V364.6 H494.6 V368.6 H419.8 V364.6 H415.8 V285.6 H419.8 Z" fill="#f7f8fa" stroke="#3a3a3c" stroke-width="1.00"/><rect x="412.80" y="288.00" width="2.60" height="8.00" rx="0.00" fill="#a8a9ab" stroke="#3a3a3c" stroke-width="0.80"/><rect x="499.00" y="288.00" width="2.60" height="8.00" rx="0.00" fill="#a8a9ab" stroke="#3a3a3c" stroke-width="0.80"/><rect x="412.80" y="310.00" width="2.60" height="8.00" rx="0.00" fill="#a8a9ab" stroke="#3a3a3c" stroke-width="0.80"/><rect x="499.00" y="310.00" width="2.60" height="8.00" rx="0.00" fill="#a8a9ab" stroke="#3a3a3c" stroke-width="0.80"/><rect x="412.80" y="332.00" width="2.60" height="8.00" rx="0.00" fill="#a8a9ab" stroke="#3a3a3c" stroke-width="0.80"/><rect x="499.00" y="332.00" width="2.60" height="8.00" rx="0.00" fill="#a8a9ab" stroke="#3a3a3c" stroke-width="0.80"/><rect x="412.80" y="354.00" width="2.60" height="8.00" rx="0.00" fill="#a8a9ab" stroke="#3a3a3c" stroke-width="0.80"/><rect x="499.00" y="354.00" width="2.60" height="8.00" rx="0.00" fill="#a8a9ab" stroke="#3a3a3c" stroke-width="0.80"/><rect x="423.70" y="281.40" width="65.70" height="5.20" rx="1.50" fill="#f7f8fa" stroke="#3a3a3c" stroke-width="1.40"/><rect x="423.70" y="300.60" width="65.70" height="5.20" rx="1.50" fill="#f7f8fa" stroke="#3a3a3c" stroke-width="1.40"/><rect x="423.70" y="322.30" width="65.70" height="5.20" rx="1.50" fill="#f7f8fa" stroke="#3a3a3c" stroke-width="1.40"/><rect x="423.70" y="344.00" width="65.70" height="5.20" rx="1.50" fill="#f7f8fa" stroke="#3a3a3c" stroke-width="1.40"/><rect x="423.70" y="365.40" width="65.70" height="5.20" rx="1.50" fill="#f7f8fa" stroke="#3a3a3c" stroke-width="1.40"/><path d="M441.50 283.80 H451.50 Q457.20 292.15 451.50 300.50 H441.50 Q435.80 292.15 441.50 283.80 Z" fill="#d2d2d1" stroke="#2e2e30" stroke-width="1.90"/><rect x="426.40" y="285.00" width="9.30" height="14.50" rx="0.00" fill="#5a3f14" stroke="none" stroke-width="0.00"/><rect x="427.70" y="286.20" width="2.10" height="5.30" rx="0.00" fill="#e9c98e" stroke="none" stroke-width="0.00"/><rect x="427.70" y="293.00" width="2.10" height="5.30" rx="0.00" fill="#e9c98e" stroke="none" stroke-width="0.00"/><rect x="432.30" y="286.20" width="2.10" height="5.30" rx="0.00" fill="#e9c98e" stroke="none" stroke-width="0.00"/><rect x="432.30" y="293.00" width="2.10" height="5.30" rx="0.00" fill="#e9c98e" stroke="none" stroke-width="0.00"/><rect x="430.65" y="286.20" width="0.80" height="12.10" rx="0.00" fill="#8a6a30" stroke="none" stroke-width="0.00"/><line x1="423.80" y1="283.80" x2="446.50" y2="283.80" stroke="#3a3a3c" stroke-width="1.8"/><line x1="423.80" y1="300.50" x2="446.50" y2="300.50" stroke="#3a3a3c" stroke-width="1.8"/><path d="M461.90 283.80 H471.90 Q477.60 292.15 471.90 300.50 H461.90 Q456.20 292.15 461.90 283.80 Z" fill="#d2d2d1" stroke="#2e2e30" stroke-width="1.90"/><rect x="477.00" y="285.00" width="9.30" height="14.50" rx="0.00" fill="#5a3f14" stroke="none" stroke-width="0.00"/><rect x="478.30" y="286.20" width="2.10" height="5.30" rx="0.00" fill="#e9c98e" stroke="none" stroke-width="0.00"/><rect x="478.30" y="293.00" width="2.10" height="5.30" rx="0.00" fill="#e9c98e" stroke="none" stroke-width="0.00"/><rect x="482.90" y="286.20" width="2.10" height="5.30" rx="0.00" fill="#e9c98e" stroke="none" stroke-width="0.00"/><rect x="482.90" y="293.00" width="2.10" height="5.30" rx="0.00" fill="#e9c98e" stroke="none" stroke-width="0.00"/><rect x="481.25" y="286.20" width="0.80" height="12.10" rx="0.00" fill="#8a6a30" stroke="none" stroke-width="0.00"/><line x1="466.90" y1="283.80" x2="488.90" y2="283.80" stroke="#3a3a3c" stroke-width="1.8"/><line x1="466.90" y1="300.50" x2="488.90" y2="300.50" stroke="#3a3a3c" stroke-width="1.8"/><path d="M441.50 305.50 H451.50 Q457.20 313.85 451.50 322.20 H441.50 Q435.80 313.85 441.50 305.50 Z" fill="#d2d2d1" stroke="#2e2e30" stroke-width="1.90"/><rect x="426.40" y="306.70" width="9.30" height="14.50" rx="0.00" fill="#5a3f14" stroke="none" stroke-width="0.00"/><rect x="427.70" y="307.90" width="2.10" height="5.30" rx="0.00" fill="#e9c98e" stroke="none" stroke-width="0.00"/><rect x="427.70" y="314.70" width="2.10" height="5.30" rx="0.00" fill="#e9c98e" stroke="none" stroke-width="0.00"/><rect x="432.30" y="307.90" width="2.10" height="5.30" rx="0.00" fill="#e9c98e" stroke="none" stroke-width="0.00"/><rect x="432.30" y="314.70" width="2.10" height="5.30" rx="0.00" fill="#e9c98e" stroke="none" stroke-width="0.00"/><rect x="430.65" y="307.90" width="0.80" height="12.10" rx="0.00" fill="#8a6a30" stroke="none" stroke-width="0.00"/><line x1="423.80" y1="305.50" x2="446.50" y2="305.50" stroke="#3a3a3c" stroke-width="1.8"/><line x1="423.80" y1="322.20" x2="446.50" y2="322.20" stroke="#3a3a3c" stroke-width="1.8"/><path d="M461.90 305.50 H471.90 Q477.60 313.85 471.90 322.20 H461.90 Q456.20 313.85 461.90 305.50 Z" fill="#d2d2d1" stroke="#2e2e30" stroke-width="1.90"/><rect x="477.00" y="306.70" width="9.30" height="14.50" rx="0.00" fill="#5a3f14" stroke="none" stroke-width="0.00"/><rect x="478.30" y="307.90" width="2.10" height="5.30" rx="0.00" fill="#e9c98e" stroke="none" stroke-width="0.00"/><rect x="478.30" y="314.70" width="2.10" height="5.30" rx="0.00" fill="#e9c98e" stroke="none" stroke-width="0.00"/><rect x="482.90" y="307.90" width="2.10" height="5.30" rx="0.00" fill="#e9c98e" stroke="none" stroke-width="0.00"/><rect x="482.90" y="314.70" width="2.10" height="5.30" rx="0.00" fill="#e9c98e" stroke="none" stroke-width="0.00"/><rect x="481.25" y="307.90" width="0.80" height="12.10" rx="0.00" fill="#8a6a30" stroke="none" stroke-width="0.00"/><line x1="466.90" y1="305.50" x2="488.90" y2="305.50" stroke="#3a3a3c" stroke-width="1.8"/><line x1="466.90" y1="322.20" x2="488.90" y2="322.20" stroke="#3a3a3c" stroke-width="1.8"/><path d="M441.50 327.20 H451.50 Q457.20 335.55 451.50 343.90 H441.50 Q435.80 335.55 441.50 327.20 Z" fill="#d2d2d1" stroke="#2e2e30" stroke-width="1.90"/><rect x="426.40" y="328.40" width="9.30" height="14.50" rx="0.00" fill="#5a3f14" stroke="none" stroke-width="0.00"/><rect x="427.70" y="329.60" width="2.10" height="5.30" rx="0.00" fill="#e9c98e" stroke="none" stroke-width="0.00"/><rect x="427.70" y="336.40" width="2.10" height="5.30" rx="0.00" fill="#e9c98e" stroke="none" stroke-width="0.00"/><rect x="432.30" y="329.60" width="2.10" height="5.30" rx="0.00" fill="#e9c98e" stroke="none" stroke-width="0.00"/><rect x="432.30" y="336.40" width="2.10" height="5.30" rx="0.00" fill="#e9c98e" stroke="none" stroke-width="0.00"/><rect x="430.65" y="329.60" width="0.80" height="12.10" rx="0.00" fill="#8a6a30" stroke="none" stroke-width="0.00"/><line x1="423.80" y1="327.20" x2="446.50" y2="327.20" stroke="#3a3a3c" stroke-width="1.8"/><line x1="423.80" y1="343.90" x2="446.50" y2="343.90" stroke="#3a3a3c" stroke-width="1.8"/><path d="M461.90 327.20 H471.90 Q477.60 335.55 471.90 343.90 H461.90 Q456.20 335.55 461.90 327.20 Z" fill="#d2d2d1" stroke="#2e2e30" stroke-width="1.90"/><rect x="477.00" y="328.40" width="9.30" height="14.50" rx="0.00" fill="#5a3f14" stroke="none" stroke-width="0.00"/><rect x="478.30" y="329.60" width="2.10" height="5.30" rx="0.00" fill="#e9c98e" stroke="none" stroke-width="0.00"/><rect x="478.30" y="336.40" width="2.10" height="5.30" rx="0.00" fill="#e9c98e" stroke="none" stroke-width="0.00"/><rect x="482.90" y="329.60" width="2.10" height="5.30" rx="0.00" fill="#e9c98e" stroke="none" stroke-width="0.00"/><rect x="482.90" y="336.40" width="2.10" height="5.30" rx="0.00" fill="#e9c98e" stroke="none" stroke-width="0.00"/><rect x="481.25" y="329.60" width="0.80" height="12.10" rx="0.00" fill="#8a6a30" stroke="none" stroke-width="0.00"/><line x1="466.90" y1="327.20" x2="488.90" y2="327.20" stroke="#3a3a3c" stroke-width="1.8"/><line x1="466.90" y1="343.90" x2="488.90" y2="343.90" stroke="#3a3a3c" stroke-width="1.8"/><path d="M441.50 348.90 H451.50 Q457.20 357.25 451.50 365.60 H441.50 Q435.80 357.25 441.50 348.90 Z" fill="#d2d2d1" stroke="#2e2e30" stroke-width="1.90"/><rect x="426.40" y="350.10" width="9.30" height="14.50" rx="0.00" fill="#5a3f14" stroke="none" stroke-width="0.00"/><rect x="427.70" y="351.30" width="2.10" height="5.30" rx="0.00" fill="#e9c98e" stroke="none" stroke-width="0.00"/><rect x="427.70" y="358.10" width="2.10" height="5.30" rx="0.00" fill="#e9c98e" stroke="none" stroke-width="0.00"/><rect x="432.30" y="351.30" width="2.10" height="5.30" rx="0.00" fill="#e9c98e" stroke="none" stroke-width="0.00"/><rect x="432.30" y="358.10" width="2.10" height="5.30" rx="0.00" fill="#e9c98e" stroke="none" stroke-width="0.00"/><rect x="430.65" y="351.30" width="0.80" height="12.10" rx="0.00" fill="#8a6a30" stroke="none" stroke-width="0.00"/><line x1="423.80" y1="348.90" x2="446.50" y2="348.90" stroke="#3a3a3c" stroke-width="1.8"/><line x1="423.80" y1="365.60" x2="446.50" y2="365.60" stroke="#3a3a3c" stroke-width="1.8"/><path d="M461.90 348.90 H471.90 Q477.60 357.25 471.90 365.60 H461.90 Q456.20 357.25 461.90 348.90 Z" fill="#d2d2d1" stroke="#2e2e30" stroke-width="1.90"/><rect x="477.00" y="350.10" width="9.30" height="14.50" rx="0.00" fill="#5a3f14" stroke="none" stroke-width="0.00"/><rect x="478.30" y="351.30" width="2.10" height="5.30" rx="0.00" fill="#e9c98e" stroke="none" stroke-width="0.00"/><rect x="478.30" y="358.10" width="2.10" height="5.30" rx="0.00" fill="#e9c98e" stroke="none" stroke-width="0.00"/><rect x="482.90" y="351.30" width="2.10" height="5.30" rx="0.00" fill="#e9c98e" stroke="none" stroke-width="0.00"/><rect x="482.90" y="358.10" width="2.10" height="5.30" rx="0.00" fill="#e9c98e" stroke="none" stroke-width="0.00"/><rect x="481.25" y="351.30" width="0.80" height="12.10" rx="0.00" fill="#8a6a30" stroke="none" stroke-width="0.00"/><line x1="466.90" y1="348.90" x2="488.90" y2="348.90" stroke="#3a3a3c" stroke-width="1.8"/><line x1="466.90" y1="365.60" x2="488.90" y2="365.60" stroke="#3a3a3c" stroke-width="1.8"/>
<rect x="381.40" y="276.50" width="22.60" height="41.30" rx="4.00" fill="#f4f5f8" stroke="#3a3a3c" stroke-width="1.80"/><rect x="383.80" y="278.90" width="17.80" height="36.50" rx="3.00" fill="none" stroke="#5a5b5e" stroke-width="1.10"/><rect x="381.40" y="325.70" width="22.60" height="42.60" rx="4.00" fill="#f4f5f8" stroke="#3a3a3c" stroke-width="1.80"/><rect x="383.80" y="328.10" width="17.80" height="37.80" rx="3.00" fill="none" stroke="#5a5b5e" stroke-width="1.10"/>
<rect x="356.00" y="89.30" width="18.00" height="5.90" rx="3.00" fill="#f4f5f8" stroke="#3a3a3c" stroke-width="1.20"/><rect x="473.30" y="89.30" width="18.30" height="5.90" rx="3.00" fill="#f4f5f8" stroke="#3a3a3c" stroke-width="1.20"/><rect x="293.30" y="154.40" width="18.30" height="7.10" rx="3.00" fill="#f4f5f8" stroke="#3a3a3c" stroke-width="1.20"/><rect x="410.60" y="154.40" width="17.40" height="7.10" rx="3.00" fill="#f4f5f8" stroke="#3a3a3c" stroke-width="1.20"/><rect x="345.50" y="269.50" width="16.50" height="7.00" rx="3.00" fill="#f4f5f8" stroke="#3a3a3c" stroke-width="1.20"/><rect x="476.00" y="269.50" width="16.00" height="7.00" rx="3.00" fill="#f4f5f8" stroke="#3a3a3c" stroke-width="1.20"/><rect x="296.00" y="371.50" width="17.00" height="6.50" rx="3.00" fill="#f4f5f8" stroke="#3a3a3c" stroke-width="1.20"/><rect x="421.60" y="371.50" width="18.20" height="6.50" rx="3.00" fill="#f4f5f8" stroke="#3a3a3c" stroke-width="1.20"/>
<rect x="312.60" y="84.00" width="17.40" height="11.60" rx="0.00" fill="#fff" stroke="#3a3a3c" stroke-width="1.10"/><text x="321.30" y="94.20" font-family="Liberation Sans" font-size="12.2" fill="#231f20" text-anchor="middle">19</text><rect x="337.80" y="84.00" width="15.90" height="11.60" rx="0.00" fill="#fff" stroke="#3a3a3c" stroke-width="1.10"/><text x="345.75" y="94.20" font-family="Liberation Sans" font-size="12.2" fill="#231f20" text-anchor="middle">20</text><rect x="431.00" y="83.60" width="15.80" height="11.80" rx="0.00" fill="#fff" stroke="#3a3a3c" stroke-width="1.10"/><text x="438.90" y="93.90" font-family="Liberation Sans" font-size="12.2" fill="#231f20" text-anchor="middle">23</text><rect x="455.00" y="83.60" width="16.00" height="11.80" rx="0.00" fill="#fff" stroke="#3a3a3c" stroke-width="1.10"/><text x="463.00" y="93.90" font-family="Liberation Sans" font-size="12.2" fill="#231f20" text-anchor="middle">24</text><rect x="314.00" y="155.00" width="16.00" height="11.40" rx="0.00" fill="#fff" stroke="#3a3a3c" stroke-width="1.10"/><text x="322.00" y="165.10" font-family="Liberation Sans" font-size="12.2" fill="#231f20" text-anchor="middle">17</text><rect x="337.80" y="155.00" width="15.90" height="11.40" rx="0.00" fill="#fff" stroke="#3a3a3c" stroke-width="1.10"/><text x="345.75" y="165.10" font-family="Liberation Sans" font-size="12.2" fill="#231f20" text-anchor="middle">18</text><rect x="431.00" y="154.00" width="16.00" height="11.60" rx="0.00" fill="#fff" stroke="#3a3a3c" stroke-width="1.10"/><text x="439.00" y="164.20" font-family="Liberation Sans" font-size="12.2" fill="#231f20" text-anchor="middle">21</text><rect x="455.50" y="154.00" width="16.50" height="11.60" rx="0.00" fill="#fff" stroke="#3a3a3c" stroke-width="1.10"/><text x="463.75" y="164.20" font-family="Liberation Sans" font-size="12.2" fill="#231f20" text-anchor="middle">22</text><rect x="312.60" y="266.20" width="15.00" height="12.30" rx="0.00" fill="#fff" stroke="#3a3a3c" stroke-width="1.10"/><text x="320.10" y="276.75" font-family="Liberation Sans" font-size="12.2" fill="#231f20" text-anchor="middle">7</text><rect x="329.30" y="266.20" width="15.90" height="12.30" rx="0.00" fill="#fff" stroke="#3a3a3c" stroke-width="1.10"/><text x="337.25" y="276.75" font-family="Liberation Sans" font-size="12.2" fill="#231f20" text-anchor="middle">8</text><rect x="439.50" y="266.60" width="16.20" height="11.80" rx="0.00" fill="#fff" stroke="#3a3a3c" stroke-width="1.10"/><text x="447.60" y="276.90" font-family="Liberation Sans" font-size="12.2" fill="#231f20" text-anchor="middle">15</text><rect x="455.70" y="266.60" width="18.10" height="11.80" rx="0.00" fill="#fff" stroke="#3a3a3c" stroke-width="1.10"/><text x="464.75" y="276.90" font-family="Liberation Sans" font-size="12.2" fill="#231f20" text-anchor="middle">16</text><rect x="312.50" y="371.40" width="15.30" height="11.40" rx="0.00" fill="#fff" stroke="#3a3a3c" stroke-width="1.10"/><text x="320.15" y="381.50" font-family="Liberation Sans" font-size="12.2" fill="#231f20" text-anchor="middle">1</text><rect x="329.40" y="371.40" width="15.20" height="11.40" rx="0.00" fill="#fff" stroke="#3a3a3c" stroke-width="1.10"/><text x="337.00" y="381.50" font-family="Liberation Sans" font-size="12.2" fill="#231f20" text-anchor="middle">2</text><rect x="440.50" y="371.40" width="15.20" height="11.40" rx="0.00" fill="#fff" stroke="#3a3a3c" stroke-width="1.10"/><text x="448.10" y="381.50" font-family="Liberation Sans" font-size="12.2" fill="#231f20" text-anchor="middle">9</text><rect x="455.70" y="371.40" width="18.10" height="11.40" rx="0.00" fill="#fff" stroke="#3a3a3c" stroke-width="1.10"/><text x="464.75" y="381.50" font-family="Liberation Sans" font-size="12.2" fill="#231f20" text-anchor="middle">10</text>
<line x1="534.4" y1="82.8" x2="837.6" y2="82.8" stroke="#2e2e2e" stroke-width="1.40"/>
<line x1="533.8" y1="422.3" x2="836.6" y2="422.3" stroke="#2e2e2e" stroke-width="1.40"/>
<line x1="535.8" y1="82.8" x2="534.4" y2="422.3" stroke="#2e2e2e" stroke-width="1.40"/>
<line x1="664.8" y1="82.8" x2="662.9" y2="422.3" stroke="#2e2e2e" stroke-width="1.40"/>
<line x1="579.4" y1="82.8" x2="579.0" y2="182.0" stroke="#2e2e2e" stroke-width="1.40"/>
<line x1="621.4" y1="82.8" x2="621.2" y2="182.0" stroke="#2e2e2e" stroke-width="1.40"/>
<line x1="578.0" y1="248.0" x2="577.4" y2="422.3" stroke="#2e2e2e" stroke-width="1.40"/>
<line x1="620.7" y1="248.0" x2="620.2" y2="422.3" stroke="#2e2e2e" stroke-width="1.40"/>
<line x1="579.2" y1="130.4" x2="664.6" y2="130.4" stroke="#2e2e2e" stroke-width="1.40"/>
<line x1="535.4" y1="182.0" x2="664.3" y2="182.0" stroke="#2e2e2e" stroke-width="1.40"/>
<line x1="535.0" y1="248.1" x2="664.0" y2="248.1" stroke="#2e2e2e" stroke-width="1.40"/>
<line x1="577.8" y1="291.2" x2="663.8" y2="291.2" stroke="#2e2e2e" stroke-width="1.40"/>
<line x1="534.8" y1="331.7" x2="663.5" y2="331.7" stroke="#2e2e2e" stroke-width="1.40"/>
<line x1="534.6" y1="377.6" x2="663.2" y2="377.6" stroke="#2e2e2e" stroke-width="1.40"/>
<line x1="703.2" y1="82.8" x2="701.5" y2="422.3" stroke="#2e2e2e" stroke-width="1.40"/>
<line x1="837.0" y1="82.8" x2="835.3" y2="422.3" stroke="#2e2e2e" stroke-width="1.40"/>
<line x1="745.2" y1="82.8" x2="745.0" y2="182.2" stroke="#2e2e2e" stroke-width="1.40"/>
<line x1="783.4" y1="82.8" x2="783.4" y2="182.2" stroke="#2e2e2e" stroke-width="1.40"/>
<line x1="745.0" y1="247.8" x2="744.8" y2="422.3" stroke="#2e2e2e" stroke-width="1.40"/>
<line x1="783.6" y1="247.8" x2="783.4" y2="422.3" stroke="#2e2e2e" stroke-width="1.40"/>
<line x1="703.0" y1="128.6" x2="783.4" y2="128.6" stroke="#2e2e2e" stroke-width="1.40"/>
<line x1="703.0" y1="182.2" x2="836.8" y2="182.2" stroke="#2e2e2e" stroke-width="1.40"/>
<line x1="702.6" y1="247.8" x2="836.2" y2="247.8" stroke="#2e2e2e" stroke-width="1.40"/>
<line x1="702.4" y1="290.3" x2="836.0" y2="290.3" stroke="#2e2e2e" stroke-width="1.40"/>
<line x1="702.0" y1="332.5" x2="783.4" y2="332.5" stroke="#2e2e2e" stroke-width="1.40"/>
<line x1="701.8" y1="377.6" x2="783.4" y2="377.6" stroke="#2e2e2e" stroke-width="1.40"/>
<path d="M589.3 184.4 L623.6 184.4 L623.6 245.6 L589.3 245.6 L589.3 229.6 L578.6 229.6 L578.6 201.2 L589.3 201.2 Z" fill="#fff" stroke="#3a3a3a" stroke-width="1.2"/>
<line x1="623.6" y1="189.5" x2="630.8" y2="189.5" stroke="#3a3a3a" stroke-width="1.20"/>
<line x1="600.2" y1="189.5" x2="622.6" y2="189.5" stroke="#3a6a4e" stroke-width="1.6" stroke-dasharray="1.9 2.9"/>
<line x1="623.6" y1="196.8" x2="630.8" y2="196.8" stroke="#3a3a3a" stroke-width="1.20"/>
<line x1="599.3" y1="196.8" x2="623.6" y2="196.8" stroke="#2a8a4a" stroke-width="1.6"/>
<line x1="623.6" y1="204.1" x2="630.8" y2="204.1" stroke="#3a3a3a" stroke-width="1.20"/>
<line x1="600.2" y1="204.1" x2="622.6" y2="204.1" stroke="#c49474" stroke-width="1.6" stroke-dasharray="1.9 2.9"/>
<line x1="623.6" y1="211.4" x2="630.8" y2="211.4" stroke="#3a3a3a" stroke-width="1.20"/>
<line x1="599.3" y1="211.4" x2="623.6" y2="211.4" stroke="#2e3a80" stroke-width="1.5"/>
<line x1="623.6" y1="218.7" x2="630.8" y2="218.7" stroke="#3a3a3a" stroke-width="1.20"/>
<line x1="600.2" y1="218.7" x2="622.6" y2="218.7" stroke="#1c1c4a" stroke-width="1.7" stroke-dasharray="1.9 2.9"/>
<line x1="623.6" y1="226.0" x2="630.8" y2="226.0" stroke="#3a3a3a" stroke-width="1.20"/>
<line x1="599.3" y1="226.0" x2="623.6" y2="226.0" stroke="#c48e58" stroke-width="1.6"/>
<line x1="623.6" y1="233.3" x2="630.8" y2="233.3" stroke="#3a3a3a" stroke-width="1.20"/>
<line x1="600.2" y1="233.3" x2="622.6" y2="233.3" stroke="#8a7a6a" stroke-width="1.6" stroke-dasharray="1.9 2.9"/>
<line x1="623.6" y1="240.6" x2="630.8" y2="240.6" stroke="#3a3a3a" stroke-width="1.20"/>
<line x1="599.3" y1="240.6" x2="623.6" y2="240.6" stroke="#7a5a3a" stroke-width="1.6"/>
<path d="M743.5 184.4 L778.3 184.4 L778.3 201.2 L788.5 201.2 L788.5 229.6 L778.3 229.6 L778.3 245.6 L743.5 245.6 Z" fill="#fff" stroke="#3a3a3a" stroke-width="1.2"/>
<line x1="735.8" y1="189.5" x2="743.5" y2="189.5" stroke="#3a3a3a" stroke-width="1.20"/>
<line x1="743.5" y1="189.5" x2="768.1" y2="189.5" stroke="#5a4a3a" stroke-width="1.1"/>
<line x1="735.8" y1="196.8" x2="743.5" y2="196.8" stroke="#3a3a3a" stroke-width="1.20"/>
<line x1="745.6" y1="196.8" x2="768.0" y2="196.8" stroke="#8a8070" stroke-width="1.3" stroke-dasharray="1.9 2.9"/>
<line x1="735.8" y1="204.1" x2="743.5" y2="204.1" stroke="#3a3a3a" stroke-width="1.20"/>
<line x1="743.5" y1="204.1" x2="768.1" y2="204.1" stroke="#c8845a" stroke-width="1.2"/>
<line x1="735.8" y1="211.4" x2="743.5" y2="211.4" stroke="#3a3a3a" stroke-width="1.20"/>
<line x1="745.6" y1="211.4" x2="768.0" y2="211.4" stroke="#2a2a3a" stroke-width="1.3" stroke-dasharray="1.9 2.9"/>
<line x1="735.8" y1="218.7" x2="743.5" y2="218.7" stroke="#3a3a3a" stroke-width="1.20"/>
<line x1="743.5" y1="218.7" x2="768.1" y2="218.7" stroke="#7070b0" stroke-width="1.6"/>
<line x1="735.8" y1="226.0" x2="743.5" y2="226.0" stroke="#3a3a3a" stroke-width="1.20"/>
<line x1="745.6" y1="226.0" x2="768.0" y2="226.0" stroke="#d09070" stroke-width="1.1" stroke-dasharray="1.9 2.9"/>
<line x1="735.8" y1="233.3" x2="743.5" y2="233.3" stroke="#3a3a3a" stroke-width="1.20"/>
<line x1="743.5" y1="233.3" x2="768.1" y2="233.3" stroke="#3a7a5a" stroke-width="1.2"/>
<line x1="735.8" y1="240.6" x2="743.5" y2="240.6" stroke="#3a3a3a" stroke-width="1.20"/>
<line x1="745.6" y1="240.6" x2="768.0" y2="240.6" stroke="#6a9a80" stroke-width="1.4" stroke-dasharray="1.9 2.9"/>
<text x="0" y="0" transform="translate(573.4 248.0) rotate(-90) scale(1.0 1.0)" font-family="Liberation Sans" font-size="13.0" fill="#3c3c3c" textLength="65.3" lengthAdjust="spacingAndGlyphs">CHARGER</text>
<text x="0" y="0" transform="translate(795.3 200.5) rotate(90)" font-family="Liberation Sans" font-size="13.6" fill="#3c3c3c" textLength="28.1" lengthAdjust="spacingAndGlyphs">BAT</text></svg>
<div class="tx" style="left:27.51px;top:8.51px;font-size:20.43px;transform:scaleX(1.0645);color:#231f20;">COM2 Terminal Communication Connection</div>
<div class="tx" style="left:37.77px;top:457.17px;font-size:20.14px;transform:scaleX(1.0146);color:#231f20;">Label</div>
<div class="tx" style="left:512.79px;top:457.53px;font-size:19.86px;transform:scaleX(1.0153);color:#231f20;">Description</div>
<div class="tx" style="left:49.71px;top:505.17px;font-size:16.71px;transform:scaleX(1.1162);color:#231f20;">DO</div>
<div class="tx" style="left:41.50px;top:547.43px;font-size:16.43px;transform:scaleX(1.0589);color:#231f20;">AI Input</div>
<div class="tx" style="left:39.67px;top:591.57px;font-size:16.71px;transform:scaleX(1.0662);color:#231f20;">Meter(A2,B2)</div>
<div class="tx" style="left:39.18px;top:634.27px;font-size:16.71px;transform:scaleX(1.0587);color:#231f20;">RSD(RSD-1,RSD-2)</div>
<div class="tx" style="left:38.79px;top:686.87px;font-size:16.71px;transform:scaleX(1.0581);color:#231f20;">BAT</div>
<div class="tx" style="left:40.97px;top:738.37px;font-size:16.71px;transform:scaleX(1.0668);color:#231f20;">Logger(A1,B1)</div>
<div class="tx" style="left:40.95px;top:808.87px;font-size:16.71px;transform:scaleX(1.0815);color:#231f20;">DRM</div>
<div class="tx" style="left:369.50px;top:493.27px;font-size:16.71px;transform:scaleX(1.0478);color:#231f20;">DO (COM1, NO1):Grounding fault/alarm</div>
<div class="tx" style="left:369.90px;top:514.17px;font-size:16.71px;transform:scaleX(1.0485);color:#231f20;">DO (COM2, NO2):Diesel generator start/stop</div>
<div class="tx" style="left:368.97px;top:548.77px;font-size:16.71px;transform:scaleX(1.0700);color:#231f20;">Reserved</div>
<div class="tx" style="left:366.72px;top:580.87px;font-size:16.71px;transform:scaleX(1.0471);color:#231f20;">Connect to the Smart Energy Meter.(If installing a single inverter</div>
<div class="tx" style="left:366.30px;top:601.37px;font-size:16.71px;transform:scaleX(1.0485);color:#231f20;">or if installing the master inverter in a string of parallel inverters.)</div>
<div class="tx" style="left:369.87px;top:630.47px;font-size:16.71px;transform:scaleX(1.0700);color:#231f20;">Reserved</div>
<div class="tx" style="left:366.20px;top:665.87px;font-size:16.71px;transform:scaleX(1.0493);color:#231f20;">BAT (EN_H, EN_G):Enable the battery with a voltage of 12V.</div>
<div class="tx" style="left:366.20px;top:686.37px;font-size:16.71px;transform:scaleX(1.0458);color:#231f20;">BAT (H, L):To enable the communication between the inverter</div>
<div class="tx" style="left:454.20px;top:706.97px;font-size:16.71px;transform:scaleX(1.0463);color:#231f20;">and the Li-ion battery</div>
<div class="tx" style="left:365.52px;top:732.37px;font-size:16.71px;transform:scaleX(1.0481);color:#231f20;">Connect to the Logger, so as to implement data exchange with</div>
<div class="tx" style="left:365.00px;top:752.17px;font-size:16.71px;transform:scaleX(1.0467);color:#231f20;">PC or other monitoring devices.</div>
<div class="tx" style="left:366.90px;top:783.37px;font-size:16.71px;transform:scaleX(1.0482);color:#231f20;">"AU"/"NZ": Demand response enabling device (DRED)</div>
<div class="tx" style="left:366.90px;top:804.57px;font-size:16.71px;transform:scaleX(1.0506);color:#231f20;">"IT": interface protection system (SPI)</div>
<div class="tx" style="left:366.90px;top:824.37px;font-size:16.71px;transform:scaleX(1.0490);color:#231f20;">"DE": Ripple Control Receiver (RCR)</div>
<div class="tx" style="left:541.51px;top:125.31px;font-size:14.57px;transform:scaleX(1.1903);color:#231f20;">DO</div>
<div class="tx" style="left:579.09px;top:100.98px;font-size:13.29px;transform:scaleX(1.0753);color:#231f20;">COM2</div>
<div class="tx" style="left:627.54px;top:100.98px;font-size:13.29px;transform:scaleX(1.0959);color:#231f20;">NO2</div>
<div class="tx" style="left:579.31px;top:151.56px;font-size:12.86px;transform:scaleX(1.0721);color:#231f20;">COM1</div>
<div class="tx" style="left:624.57px;top:151.56px;font-size:12.86px;transform:scaleX(1.0961);color:#231f20;">NO1</div>
<div class="tx" style="left:546.30px;top:272.90px;font-size:14.14px;transform:scaleX(1.1881);color:#231f20;">AI</div>
<div class="tx" style="left:536.78px;top:291.30px;font-size:14.14px;transform:scaleX(1.1915);color:#231f20;">Input</div>
<div class="tx" style="left:590.50px;top:264.81px;font-size:12.14px;transform:scaleX(1.1599);color:#231f20;">V+</div>
<div class="tx" style="left:637.20px;top:264.81px;font-size:12.14px;transform:scaleX(1.1689);color:#231f20;">V-</div>
<div class="tx" style="left:593.00px;top:306.71px;font-size:12.14px;transform:scaleX(1.1599);color:#231f20;">A+</div>
<div class="tx" style="left:637.20px;top:306.71px;font-size:12.14px;transform:scaleX(1.1273);color:#231f20;">A-</div>
<div class="tx" style="left:534.18px;top:347.91px;font-size:14.57px;transform:scaleX(1.1284);color:#231f20;">Meter</div>
<div class="tx" style="left:592.70px;top:348.82px;font-size:12.57px;transform:scaleX(1.1354);color:#231f20;">A2</div>
<div class="tx" style="left:631.29px;top:348.82px;font-size:12.57px;transform:scaleX(1.2037);color:#231f20;">B2</div>
<div class="tx" style="left:539.28px;top:393.17px;font-size:15.29px;transform:scaleX(1.0820);color:#231f20;">RSD</div>
<div class="tx" style="left:577.48px;top:394.46px;font-size:13.86px;transform:scaleX(1.0118);color:#231f20;">RSD-1</div>
<div class="tx" style="left:619.95px;top:394.46px;font-size:13.86px;transform:scaleX(1.0369);color:#231f20;">RSD-2</div>
<div class="tx" style="left:704.78px;top:100.05px;font-size:13.43px;transform:scaleX(1.1339);color:#231f20;">EN_H</div>
<div class="tx" style="left:744.53px;top:100.05px;font-size:13.43px;transform:scaleX(1.0901);color:#231f20;">EN_G</div>
<div class="tx" style="left:793.12px;top:121.61px;font-size:14.57px;transform:scaleX(1.1866);color:#231f20;">BAT</div>
<div class="tx" style="left:720.96px;top:149.11px;font-size:13.14px;transform:scaleX(1.1747);color:#231f20;">H</div>
<div class="tx" style="left:759.36px;top:149.11px;font-size:13.14px;transform:scaleX(1.0821);color:#231f20;">L</div>
<div class="tx" style="left:712.00px;top:264.81px;font-size:12.14px;transform:scaleX(1.0985);color:#231f20;">A1</div>
<div class="tx" style="left:750.46px;top:264.81px;font-size:12.14px;transform:scaleX(1.1786);color:#231f20;">B1</div>
<div class="tx" style="left:782.95px;top:267.06px;font-size:13.86px;transform:scaleX(1.2184);color:#231f20;">Logger</div>
<div class="tx" style="left:711.59px;top:306.32px;font-size:12.57px;transform:scaleX(1.1310);color:#231f20;">C</div>
<div class="tx" style="left:750.80px;top:306.32px;font-size:12.57px;transform:scaleX(1.1932);color:#231f20;">R</div>
<div class="tx" style="left:704.81px;top:342.81px;font-size:12.14px;transform:scaleX(1.2211);color:#231f20;">DRM</div>
<div class="tx" style="left:709.57px;top:357.96px;font-size:12.86px;transform:scaleX(1.1069);color:#231f20;">3/7</div>
<div class="tx" style="left:747.42px;top:342.81px;font-size:12.14px;transform:scaleX(1.2173);color:#231f20;">DRM</div>
<div class="tx" style="left:751.71px;top:357.96px;font-size:12.86px;transform:scaleX(1.1369);color:#231f20;">4/8</div>
<div class="tx" style="left:704.81px;top:388.31px;font-size:12.14px;transform:scaleX(1.2211);color:#231f20;">DRM</div>
<div class="tx" style="left:709.60px;top:402.66px;font-size:12.86px;transform:scaleX(1.1146);color:#231f20;">1/5</div>
<div class="tx" style="left:747.42px;top:388.31px;font-size:12.14px;transform:scaleX(1.2173);color:#231f20;">DRM</div>
<div class="tx" style="left:751.25px;top:402.66px;font-size:12.86px;transform:scaleX(1.1631);color:#231f20;">2/6</div>
<div class="tx" style="left:787.10px;top:349.76px;font-size:13.86px;transform:scaleX(1.2603);color:#231f20;">DRM</div>
<div class="tx" style="left:367.95px;top:393.28px;font-size:20.57px;transform:scaleX(1.0234);color:#231f20;">COM2</div>
<div class="tx" style="left:132.52px;top:271.56px;font-size:16.29px;transform:scaleX(0.9585);color:#3a3a3a;">COM2</div>
</body></html>
